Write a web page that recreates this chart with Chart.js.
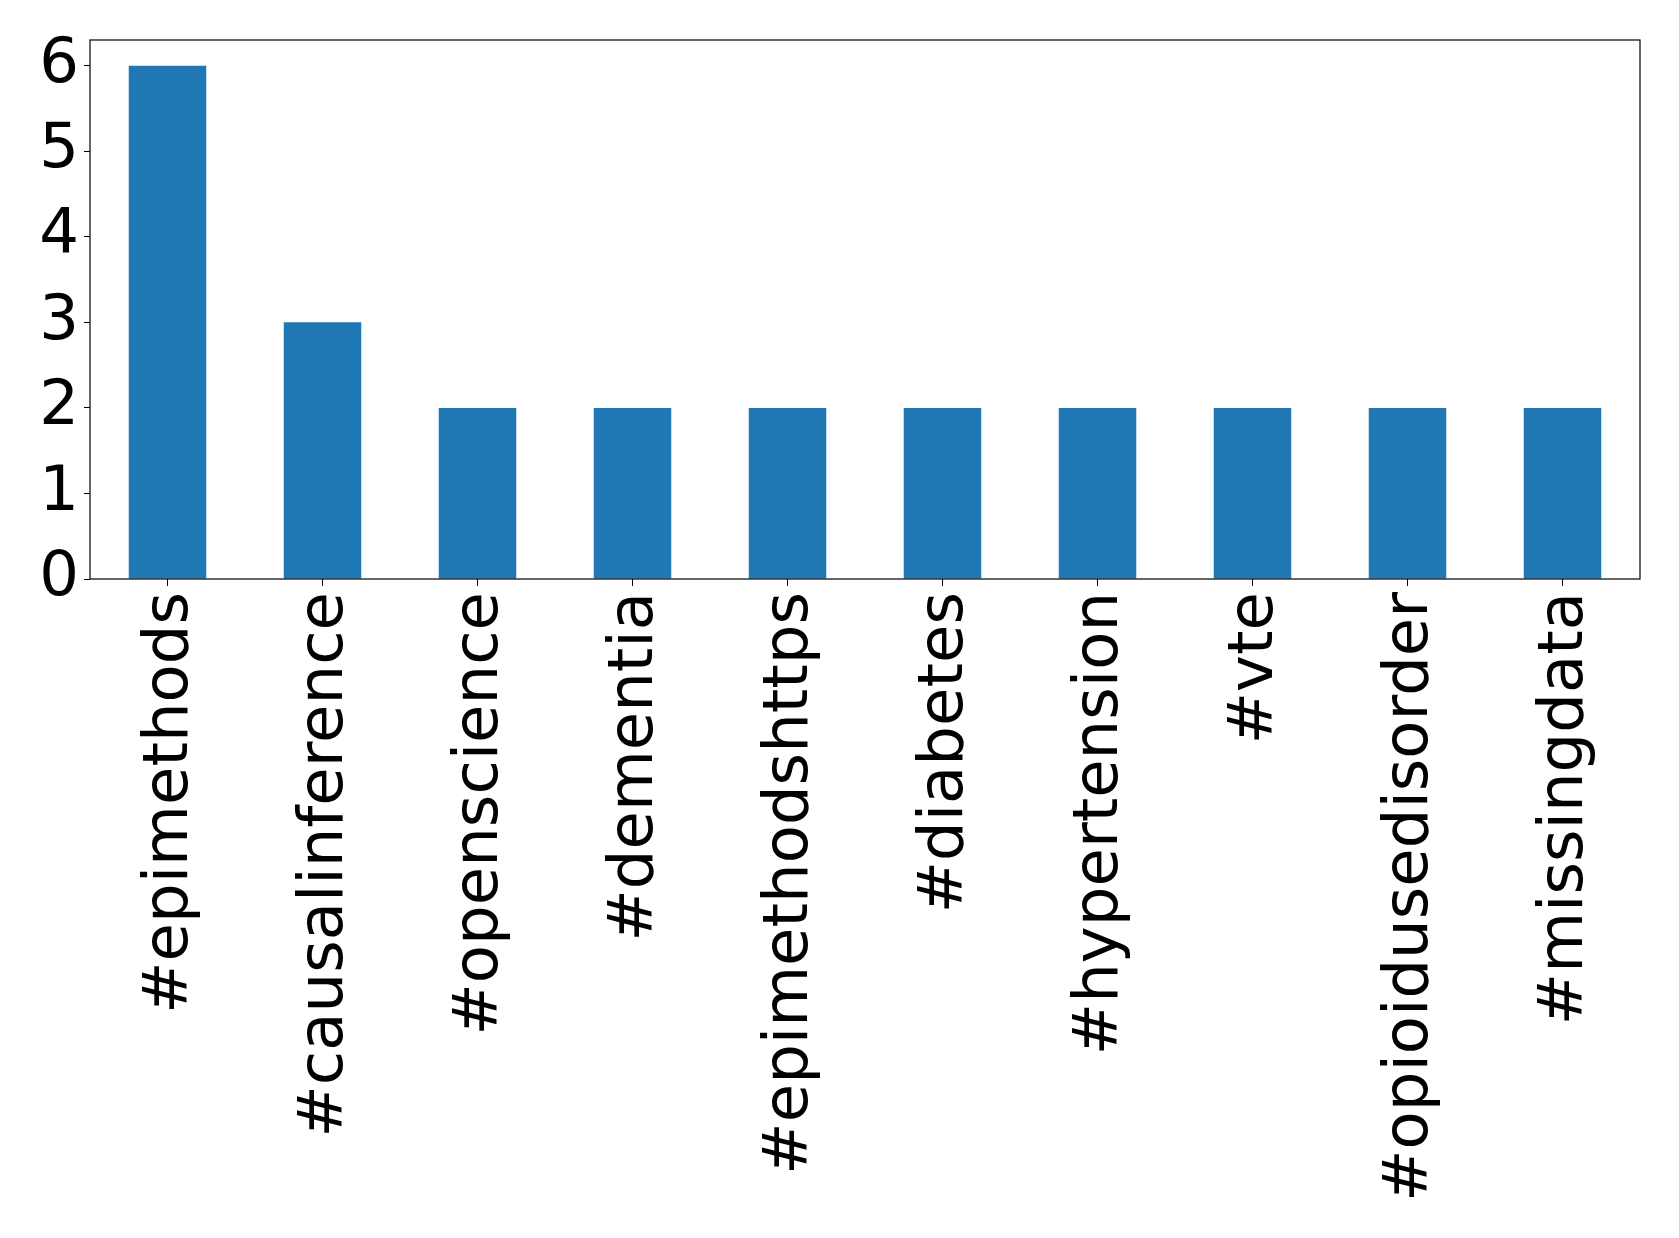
<!DOCTYPE html>
<html>
<head>
<meta charset="utf-8">
<script src="https://cdn.jsdelivr.net/npm/chart.js@4"></script>
<style>
    html, body { margin: 0; padding: 0; background: white; }
    #wrap { width: 1679px; height: 1238px; }
</style>
</head>
<body>
<div id="wrap"><canvas id="chart" width="1679" height="1238"></canvas></div>
<script>
// Hashtag counts
const hashtags = ['#epimethods', '#causalinference', '#openscience', '#dementia', '#epimethodshttps',
    '#diabetes', '#hypertension', '#vte', '#opioidusedisorder', '#missingdata'];
const counts = [6, 3, 2, 2, 2, 2, 2, 2, 2, 2];
const yTicks = [0, 1, 2, 3, 4, 5, 6];

const fontFamily = 'DejaVu Sans';

// Draws the black frame round the plot area
const frameBox = {
    id: 'frameBox',
    afterDraw(chart) {
        const area = chart.chartArea;
        const ctx = chart.ctx;
        ctx.save();
        ctx.strokeStyle = 'black';
        ctx.lineWidth = 1.2;
        ctx.strokeRect(area.left, area.top, area.right - area.left, area.bottom - area.top);
        ctx.restore();
    }
};

let chart = new Chart(document.getElementById('chart'), {
    type: 'bar',
    data: {
        labels: hashtags,
        datasets: [{
            data: counts,
            backgroundColor: '#1f77b4',
            barPercentage: 0.5,
            categoryPercentage: 1.0
        }]
    },
    options: {
        responsive: false,
        animation: false,
        layout: {
            padding: { top: 40, right: 39, left: 0, bottom: 0 }
        },
        plugins: {
            legend: { display: false },
            tooltip: { enabled: false }
        },
        scales: {
            x: {
                offset: true,
                grid: {
                    offset: false,
                    drawOnChartArea: false,
                    tickLength: 7,
                    tickColor: 'black'
                },
                border: { display: false },
                ticks: {
                    color: 'black',
                    maxRotation: 90,
                    minRotation: 90,
                    padding: 6,
                    labelOffset: 3,
                    autoSkip: false,
                    font: { family: fontFamily, size: 62.5 }
                },
                afterFit: scale => { scale.height = 659; }
            },
            y: {
                min: 0,
                max: 6.3,
                grid: {
                    drawOnChartArea: false,
                    tickLength: 6,
                    tickColor: 'black'
                },
                border: { display: false },
                ticks: {
                    color: 'black',
                    stepSize: 1,
                    includeBounds: false,
                    padding: 5,
                    font: { family: fontFamily, size: 62.5 }
                },
                afterBuildTicks: scale => {
                    scale.ticks = yTicks.map(v => ({ value: v }));
                },
                afterFit: scale => {
                    // labels sit inside the frame, no extra room needed above/below
                    scale.width = 90;
                    scale.paddingTop = 0;
                    scale.paddingBottom = 0;
                }
            }
        }
    },
    plugins: [frameBox]
});
</script>
</body>
</html>
